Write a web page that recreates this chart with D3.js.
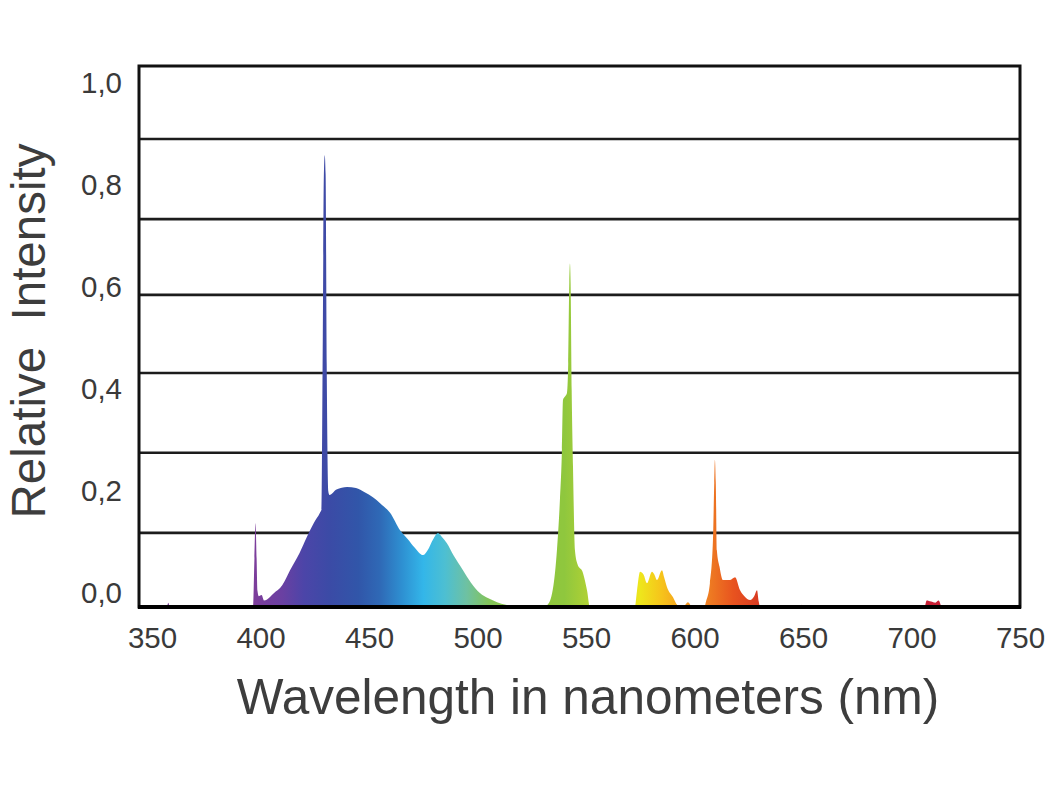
<!DOCTYPE html>
<html>
<head>
<meta charset="utf-8">
<script src="https://cdn.jsdelivr.net/npm/d3@7/dist/d3.min.js"></script>
<style>
  html, body { margin: 0; padding: 0; background: #fff; }
  svg { display: block; font-family: "Liberation Sans", Arial, Helvetica, sans-serif; }
</style>
</head>
<body>
<svg id="chart" width="1050" height="789"></svg>
<script>
// ---- data ----
const spectrumNm = [
  344, 356.8, 357.5, 358.2, 396.6, 397.2, 397.7, 398.2, 398.6, 399.2, 400.5, 401.6, 403, 406,
  410, 413.6, 418, 421.4, 424.5, 427.4, 428.1, 428.7, 429.2, 429.6, 430.0, 430.5, 431.2, 431.8,
  435, 439.9, 444, 448, 451.8, 455.1, 459.7, 464.3, 468, 471, 474.9, 477, 479.5, 481.8, 483.5,
  485.9, 489, 493.3, 497, 501.1, 505, 509, 513, 516.4, 520,
  530, 532.5, 535, 536.6, 538, 538.9, 539.4, 540.5, 541.2, 541.8, 542.3, 542.6, 542.9, 543.4,
  544, 544.9, 546, 548.6, 550.5, 551.8,
  572.5, 573.5, 574.9, 576.5, 578.1, 580.4, 581.5, 582.7, 585, 586, 587.3, 590.1, 592.4, 595,
  597, 598.5, 600,
  604.5, 605.3, 607.1, 608.5, 609.1, 609.4, 609.8, 610.3, 611.5, 613.1, 616.4, 618.7, 621, 623,
  625.6, 627.5, 628.8, 629.6, 630.2,
  649, 649.5, 650, 706, 707, 709, 711, 712.5, 714, 750
];
const spectrumI = [
  0, 0, 0.008, 0, 0, 0.09, 0.155, 0.09, 0.03, 0.02, 0.022, 0.012, 0.014, 0.025,
  0.04, 0.068, 0.1, 0.13, 0.155, 0.174, 0.18, 0.5, 0.8, 0.835, 0.8, 0.45, 0.215, 0.207,
  0.217, 0.222, 0.22, 0.212, 0.203, 0.192, 0.174, 0.142, 0.125, 0.11, 0.096, 0.105, 0.125, 0.137, 0.13,
  0.118, 0.095, 0.068, 0.045, 0.026, 0.016, 0.009, 0.004, 0.002, 0,
  0, 0.005, 0.04, 0.105, 0.2, 0.29, 0.383, 0.39, 0.395, 0.45, 0.6, 0.635, 0.6, 0.4,
  0.26, 0.105, 0.08, 0.063, 0.03, 0,
  0, 0.03, 0.065, 0.06, 0.044, 0.065, 0.06, 0.05, 0.068, 0.055, 0.037, 0.018, 0.003, 0.002,
  0.009, 0.002, 0,
  0, 0.01, 0.044, 0.124, 0.23, 0.272, 0.23, 0.105, 0.075, 0.05, 0.05, 0.055, 0.031, 0.02,
  0.013, 0.02, 0.031, 0.01, 0,
  0, 0.004, 0, 0, 0.012, 0.01, 0.008, 0.012, 0, 0
];
const xTicks = [350, 400, 450, 500, 550, 600, 650, 700, 750];
const yTicks = [0, 0.2, 0.4, 0.6, 0.8, 1.0];
// horizontal rules as drawn (they do not line up with the tick labels)
const gridLevels = [0.137, 0.285, 0.4325, 0.577, 0.717, 0.865];

// wavelength -> colour of the fill
const colourNm = [396, 410, 420, 432, 445, 455, 465, 475, 485, 495, 505, 520, 540, 560, 575, 585, 595, 607, 618, 630, 700, 715];
const colourHex = ["#7e3d9a", "#6a40a2", "#4c45a8", "#3b4ba6", "#3156a9", "#2f69b6", "#2e8fd1", "#33b6e9", "#4dbfd2",
                   "#6ec1a2", "#82c45a", "#8fc63c", "#8fc73e", "#c9d92c", "#eee61c", "#f6c31b", "#f49c20", "#ee7b22",
                   "#e8531f", "#d83a22", "#c81f35", "#c81f35"];

// ---- layout ----
const L = 139, R = 1020, T = 66, B = 607;
const svg = d3.select("#chart");

const x = d3.scaleLinear().domain([344, 750]).range([L, R]);
const y = d3.scaleLinear().domain([0, 1]).range([B, T]);
const yLabel = d3.scaleLinear().domain([0, 1]).range([593, 83]);

// gradient
const defs = svg.append("defs");
const gx0 = x(colourNm[0]), gx1 = x(colourNm[colourNm.length - 1]);
const grad = defs.append("linearGradient")
  .attr("id", "spec").attr("gradientUnits", "userSpaceOnUse")
  .attr("x1", gx0).attr("x2", gx1).attr("y1", 0).attr("y2", 0);
colourNm.forEach((nm, i) => {
  grad.append("stop").attr("offset", (x(nm) - gx0) / (gx1 - gx0)).attr("stop-color", colourHex[i]);
});

// box background
svg.append("rect").attr("x", L).attr("y", T).attr("width", R - L).attr("height", B - T).attr("fill", "#fff");

// grid lines
svg.append("g").selectAll("line").data(gridLevels).join("line")
  .attr("x1", L).attr("x2", R)
  .attr("y1", d => y(d)).attr("y2", d => y(d))
  .attr("stroke", "#1c1c1c").attr("stroke-width", 2.6);

// spectrum
const pts = spectrumNm.map((nm, i) => [nm, spectrumI[i]]);
const area = d3.area()
  .x(d => x(d[0])).y0(B).y1(d => y(d[1]))
  .curve(d3.curveMonotoneX);
svg.append("path").datum(pts).attr("d", area).attr("fill", "url(#spec)");

// box frame
svg.append("rect").attr("x", L).attr("y", T).attr("width", R - L).attr("height", B - T)
  .attr("fill", "none").attr("stroke", "#111").attr("stroke-width", 3);
svg.append("line").attr("x1", L - 1).attr("x2", R + 1).attr("y1", B).attr("y2", B)
  .attr("stroke", "#000").attr("stroke-width", 4);

// axes
const fmt = d => d3.format(".1f")(d).replace(".", ",");
const yAxis = svg.append("g").attr("transform", `translate(${L},0)`)
  .call(d3.axisLeft(yLabel).tickValues(yTicks).tickFormat(fmt).tickSize(0).tickPadding(17));
yAxis.select(".domain").remove();
yAxis.selectAll("text").attr("font-size", 29.5).attr("fill", "#3a3a3a")
  .attr("font-family", '"Liberation Sans", Arial, sans-serif');

const xAxis = svg.append("g").attr("transform", `translate(0,${B})`)
  .call(d3.axisBottom(x).tickValues(xTicks).tickFormat(d3.format("d")).tickSize(0).tickPadding(20));
xAxis.select(".domain").remove();
xAxis.selectAll("text").attr("font-size", 29.5).attr("fill", "#3a3a3a")
  .attr("font-family", '"Liberation Sans", Arial, sans-serif');

// titles
svg.append("text").attr("x", 588).attr("y", 714).attr("text-anchor", "middle")
  .attr("font-size", 49.5).attr("fill", "#3d3d3d").text("Wavelength in nanometers (nm)");
svg.append("text").attr("transform", "translate(45,331) rotate(-90)").attr("text-anchor", "middle")
  .attr("font-size", 47.5).attr("fill", "#3d3d3d").style("white-space", "pre").text("Relative  Intensity");
</script>
</body>
</html>
